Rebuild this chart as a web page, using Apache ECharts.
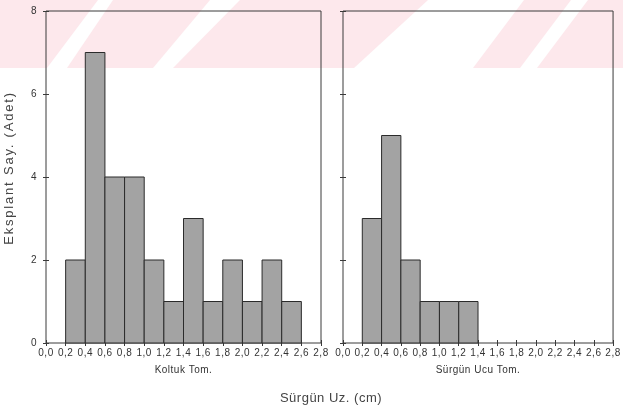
<!DOCTYPE html>
<html>
<head>
<meta charset="utf-8">
<script src="https://cdn.jsdelivr.net/npm/echarts@6/dist/echarts.min.js"></script>
<style>
  html, body { margin: 0; padding: 0; background: #fff; }
  #chart { width: 623px; height: 409px; }
</style>
</head>
<body>
<div id="chart"></div>
<script>
// Histogram bins (lower edge, cm) and explant counts per bin
const binWidth = 0.2;
const koltukStart = [0.2, 0.4, 0.6, 0.8, 1.0, 1.2, 1.4, 1.6, 1.8, 2.0, 2.2, 2.4];
const koltukCount = [2, 7, 4, 4, 2, 1, 3, 1, 2, 1, 2, 1];
const ucuStart = [0.2, 0.4, 0.6, 0.8, 1.0, 1.2];
const ucuCount = [3, 5, 2, 1, 1, 1];

// Axis tick labels
const xTickLabels = ['0,0', '0,2', '0,4', '0,6', '0,8', '1,0', '1,2', '1,4',
                     '1,6', '1,8', '2,0', '2,2', '2,4', '2,6', '2,8'];
const yTickLabels = ['0', '2', '4', '6', '8'];

// Titles
const panelNames = ['Koltuk Tom.', 'Sürgün Ucu Tom.'];
const yTitle = 'Eksplant Say. (Adet)';
const xTitle = 'Sürgün Uz. (cm)';

const textColor = '#333';
const frameColor = '#3a3a3a';
const font = 'Liberation Sans, Arial, sans-serif';

// Widely tracked lettering for the two shared axis titles
const spacedTitles = { [yTitle]: '1.8px', [xTitle]: '0.5px' };
const baseFillText = CanvasRenderingContext2D.prototype.fillText;
CanvasRenderingContext2D.prototype.fillText = function (t, x, y, w) {
  const sp = spacedTitles[t];
  if (sp && 'letterSpacing' in this) {
    const prev = this.letterSpacing;
    this.letterSpacing = sp;
    baseFillText.call(this, t, x, y, w);
    this.letterSpacing = prev;
  } else {
    baseFillText.call(this, t, x, y, w);
  }
};

function toRows(starts, counts) {
  return starts.map((s, i) => [s, s + binWidth, counts[i]]);
}

function renderBin(params, api) {
  const p0 = api.coord([api.value(0), 0]);
  const p1 = api.coord([api.value(1), api.value(2)]);
  return {
    type: 'rect',
    shape: { x: p0[0], y: p1[1], width: p1[0] - p0[0], height: p0[1] - p1[1] },
    style: { fill: '#a3a3a3', stroke: '#2b2b2b', lineWidth: 1 }
  };
}

function xAxisDef(gridIndex, position, withLabels, name) {
  return {
    type: 'value', gridIndex, position,
    min: 0, max: 2.8, interval: 0.2,
    name: name || '',
    nameLocation: 'middle', nameGap: 22,
    nameTextStyle: { color: textColor, fontSize: 10, fontFamily: font },
    axisLine: { show: false },
    axisTick: { show: true, inside: true, length: 3, lineStyle: { color: frameColor } },
    axisLabel: {
      show: withLabels, color: textColor, fontSize: 10, fontFamily: font, margin: 5,
      formatter: v => xTickLabels[Math.round(v / binWidth)]
    },
    splitLine: { show: false }
  };
}

function yAxisDef(gridIndex, position, withLabels) {
  return {
    type: 'value', gridIndex, position,
    min: 0, max: 8, interval: 2,
    axisLine: { show: false },
    axisTick: { show: true, inside: true, length: 3, lineStyle: { color: frameColor } },
    axisLabel: {
      show: withLabels, color: textColor, fontSize: 10, fontFamily: font, margin: 9,
      formatter: v => yTickLabels[Math.round(v / 2)]
    },
    splitLine: { show: false }
  };
}

// Light pink diagonal band across the top of the page
const pink = '#fde8ec';
const bandShapes = [
  [[0, 68], [47, 68], [98, 0], [0, 0]],
  [[67, 68], [153, 68], [210, 0], [113, 0]],
  [[173, 68], [354, 68], [428, 0], [240, 0]],
  [[473, 68], [520, 68], [571, 0], [524, 0]],
  [[537, 68], [623, 68], [623, 0], [588, 0]]
];

const chart = echarts.init(document.getElementById('chart'), null, { renderer: 'canvas' });
chart.setOption({
  animation: false,
  backgroundColor: '#fff',
  graphic: {
    elements: bandShapes.map(pts => ({
      type: 'polygon', z: -10, silent: true,
      shape: { points: pts },
      style: { fill: pink }
    })).concat([
      {
        type: 'text', x: 331, y: 398, silent: true,
        style: { text: xTitle, fill: '#444', font: '13px ' + font, align: 'center', verticalAlign: 'middle' }
      },
      {
        type: 'text', x: 9, y: 168, rotation: Math.PI / 2, silent: true,
        style: { text: yTitle, fill: '#444', font: '13px ' + font, align: 'center', verticalAlign: 'middle' }
      }
    ])
  },
  grid: [
    { left: 46, right: 302, top: 11, bottom: 66, show: true, borderColor: frameColor, borderWidth: 1, backgroundColor: 'transparent' },
    { left: 343, right: 6, top: 11, bottom: 66, show: true, borderColor: frameColor, borderWidth: 1, backgroundColor: 'transparent' }
  ],
  xAxis: [
    xAxisDef(0, 'bottom', true, panelNames[0]),
    xAxisDef(0, 'top', false),
    xAxisDef(1, 'bottom', true, panelNames[1]),
    xAxisDef(1, 'top', false)
  ],
  yAxis: [
    yAxisDef(0, 'left', true),
    yAxisDef(0, 'right', false),
    yAxisDef(1, 'left', false),
    yAxisDef(1, 'right', false)
  ],
  series: [
    { type: 'custom', xAxisIndex: 0, yAxisIndex: 0, renderItem: renderBin, data: toRows(koltukStart, koltukCount) },
    { type: 'custom', xAxisIndex: 2, yAxisIndex: 2, renderItem: renderBin, data: toRows(ucuStart, ucuCount) }
  ]
});
</script>
</body>
</html>
